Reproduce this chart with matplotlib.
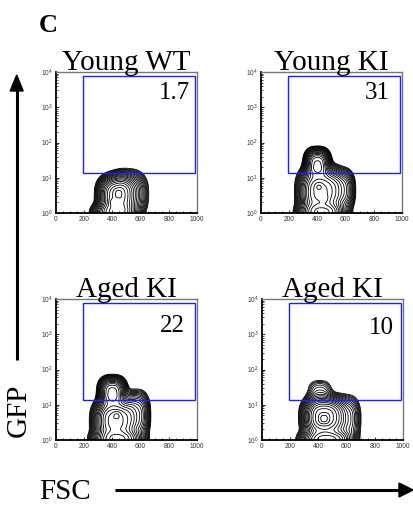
import numpy as np
import matplotlib.pyplot as plt
from matplotlib.patches import Rectangle, Polygon
from matplotlib.ticker import LogLocator, MultipleLocator, LogFormatterMathtext, NullFormatter

titles = ["Young WT", "Young KI", "Aged KI", "Aged KI"]
gate_pct = ["1.7", "31", "22", "10"]
gate_x = [190, 985]
gate_y = [14, 7800]

# density blobs per panel: (FSC centre, log10 GFP centre, sx, sy, weight)
blobs_young_wt = [(430, 0.50, 75, 0.32, 1.0), (425, -0.05, 90, 0.20, 1.0), (510, 0.55, 80, 0.38, 0.35),
                  (440, 0.55, 22, 0.10, 0.25), (400, 0.30, 20, 0.08, 0.2)]
blobs_young_ki = [(400, 1.40, 50, 0.24, 0.75), (420, 0.60, 85, 0.40, 1.0), (435, -0.05, 95, 0.20, 1.0),
                  (570, 0.65, 55, 0.35, 0.30), (410, 0.75, 20, 0.08, 0.2), (450, 0.40, 20, 0.08, 0.15)]
blobs_aged_22 = [(400, 1.35, 55, 0.25, 0.65), (420, 0.55, 85, 0.35, 1.0), (440, -0.05, 100, 0.20, 1.0),
                 (570, 0.70, 55, 0.40, 0.30), (430, 0.70, 20, 0.08, 0.2)]
blobs_aged_10 = [(440, 0.65, 85, 0.33, 1.0), (460, -0.05, 105, 0.20, 0.9), (410, 1.35, 60, 0.25, 0.08),
                 (600, 0.60, 60, 0.40, 0.20), (440, 0.60, 25, 0.10, 0.35)]
all_blobs = [blobs_young_wt, blobs_young_ki, blobs_aged_22, blobs_aged_10]

W, H = 413, 509
positions = [(56, 72), (261, 72), (56, 299), (262, 299)]
AX = 141
num_pos = [(0.95, 0.93), (0.915, 0.93), (0.915, 0.89), (0.935, 0.875)]

serif = ["Liberation Serif", "DejaVu Serif"]
sans = ["Liberation Sans", "DejaVu Sans"]

fig = plt.figure(figsize=(W / 100, H / 100), dpi=100)

xs = np.linspace(0, 1000, 500)
lys = np.linspace(0, 4, 500)
X, LY = np.meshgrid(xs, lys)

for i in range(4):
    px, py = positions[i]
    ax = fig.add_axes([px / W, 1 - (py + AX) / H, AX / W, AX / H])
    Z = np.zeros_like(X)
    for cx, cy, sx, sy, w in all_blobs[i]:
        Z += w * np.exp(-0.5 * (np.abs((X - cx) / sx) ** 2.6 + np.abs((LY - cy) / sy) ** 2.6))
    levels = Z.max() * np.geomspace(0.02, 0.9, 20)
    ax.contour(X, 10 ** LY, Z, levels=levels, colors="black", linewidths=0.6)
    ax.add_patch(Rectangle((gate_x[0], gate_y[0]), gate_x[1] - gate_x[0], gate_y[1] - gate_y[0],
                           fill=False, edgecolor="#2020ff", lw=1.0, zorder=3))
    ax.set_yscale("log")
    ax.set_xlim(0, 1000)
    ax.set_ylim(1, 1e4)
    ax.xaxis.set_major_locator(MultipleLocator(200))
    ax.xaxis.set_minor_locator(MultipleLocator(50))
    ax.yaxis.set_major_locator(LogLocator(base=10, numticks=10))
    ax.yaxis.set_minor_locator(LogLocator(base=10, subs=np.arange(2, 10), numticks=10))
    ax.yaxis.set_major_formatter(LogFormatterMathtext())
    ax.yaxis.set_minor_formatter(NullFormatter())
    ax.tick_params(which="both", direction="in", labelsize=4.8, colors="black", labelcolor="#333333",
                   pad=2)
    ax.tick_params(which="major", length=2.5, width=0.6)
    ax.tick_params(which="minor", length=1.5, width=0.5)
    for lab in ax.get_xticklabels() + ax.get_yticklabels():
        lab.set_family(sans)
    for s in ["left", "bottom"]:
        ax.spines[s].set_linewidth(1.3)
        ax.spines[s].set_color("black")
    for s in ["top", "right"]:
        ax.spines[s].set_linewidth(1.0)
        ax.spines[s].set_color("#777777")
    ax.text(0.5, 1.012, titles[i], transform=ax.transAxes, ha="center", va="baseline",
            fontsize=21, family=serif, zorder=5)
    ax.text(num_pos[i][0], num_pos[i][1], gate_pct[i], transform=ax.transAxes, ha="right", va="top",
            fontsize=18, family=serif)

# overlay for panel letter, axis titles and arrows (pixel coordinates)
ov = fig.add_axes([0, 0, 1, 1])
ov.set_xlim(0, W)
ov.set_ylim(H, 0)
ov.axis("off")
ov.text(39, 32, "C", fontsize=19, fontweight="bold", family=serif, va="baseline")
ov.plot([16.7, 16.7], [88, 360], color="black", lw=2.2, solid_capstyle="butt")
ov.add_patch(Polygon([[16.7, 75], [10.2, 91], [23.2, 91]], closed=True, color="black"))
ov.text(19, 410, "GFP", fontsize=21, family=serif, rotation=90, ha="center", va="center")
ov.text(65, 492, "FSC", fontsize=21, family=serif, ha="center", va="center")
ov.plot([115, 401], [490, 490], color="black", lw=2.2, solid_capstyle="butt")
ov.add_patch(Polygon([[413, 490], [399, 483], [399, 497]], closed=True, color="black"))

fig.savefig("out.png", dpi=100)
